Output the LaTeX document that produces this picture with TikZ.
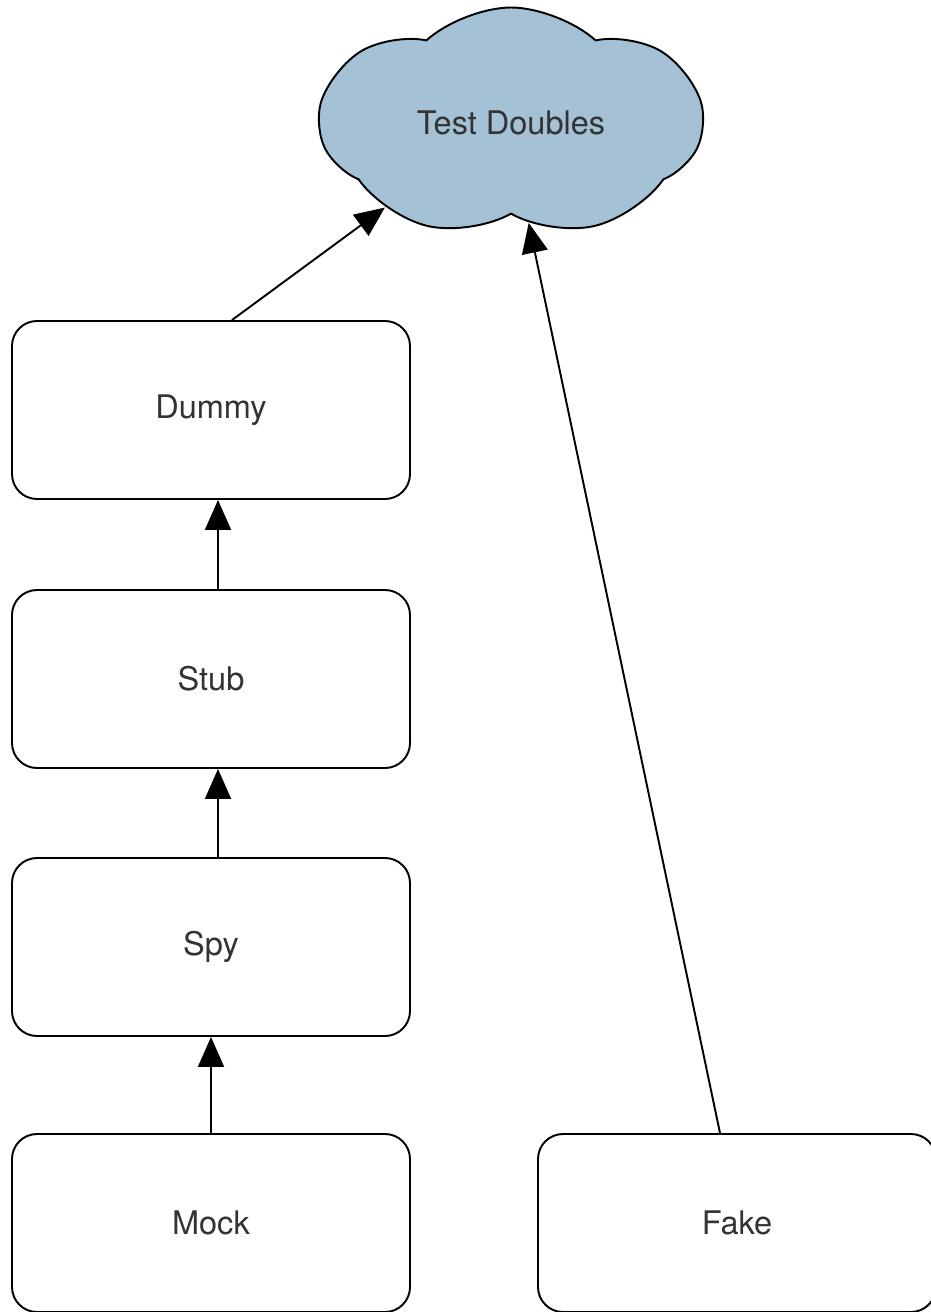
\documentclass[tikz,border=0pt]{standalone}
\usepackage{fontspec}
\setmainfont{TeX Gyre Heros}
\usetikzlibrary{positioning, arrows.meta, shapes.symbols}
\definecolor{cloudblue}{HTML}{A4C1D6}
\definecolor{txtgray}{HTML}{333333}

\begin{document}
\begin{tikzpicture}[
		>={Triangle[length=6mm, width=5.2mm]},
		kindnode/.style={draw, rounded corners=5mm, line width=1.1pt, minimum width=7.96cm, minimum height=3.56cm, font=\fontsize{18.5}{22}\selectfont, text=txtgray},
		cloudnode/.style={draw, cloud, cloud puffs=7, cloud puff arc=85, aspect=1.7, fill=cloudblue, line width=1.1pt, minimum width=7.64cm, minimum height=4.6cm, inner sep=0pt, font=\fontsize{18.5}{22}\selectfont, text=txtgray},
		link/.style={->, line width=1.1pt},
	]
	\useasboundingbox (0, 0) rectangle (18.62, -26.24);
	\node[cloudnode] (doubles) at (10.22, -2.45) {Test Doubles};
	\node[kindnode] (dummy) at (4.22, -8.2) {Dummy};
	\node[kindnode] (stub) at (4.22, -13.58) {Stub};
	\node[kindnode] (spy) at (4.22, -18.94) {Spy};
	\node[kindnode] (mock) at (4.22, -24.46) {Mock};
	\node[kindnode] (fake) at (14.74, -24.46) {Fake};
	\coordinate (dummytop) at ([xshift=0.42cm]dummy.north);
	\coordinate (stubtop) at ([xshift=0.14cm]stub.north);
	\coordinate (spytop) at ([xshift=0.14cm]spy.north);
	\coordinate (faketop) at ([xshift=-0.34cm]fake.north);

	\draw[link] (dummytop) -- (doubles.214);
	\draw[link] (stubtop) -- (stubtop |- dummy.south);
	\draw[link] (spytop) -- (spytop |- stub.south);
	\draw[link] (mock) -- (spy);
	\draw[link] (faketop) -- (doubles.-80);
\end{tikzpicture}
\end{document}
